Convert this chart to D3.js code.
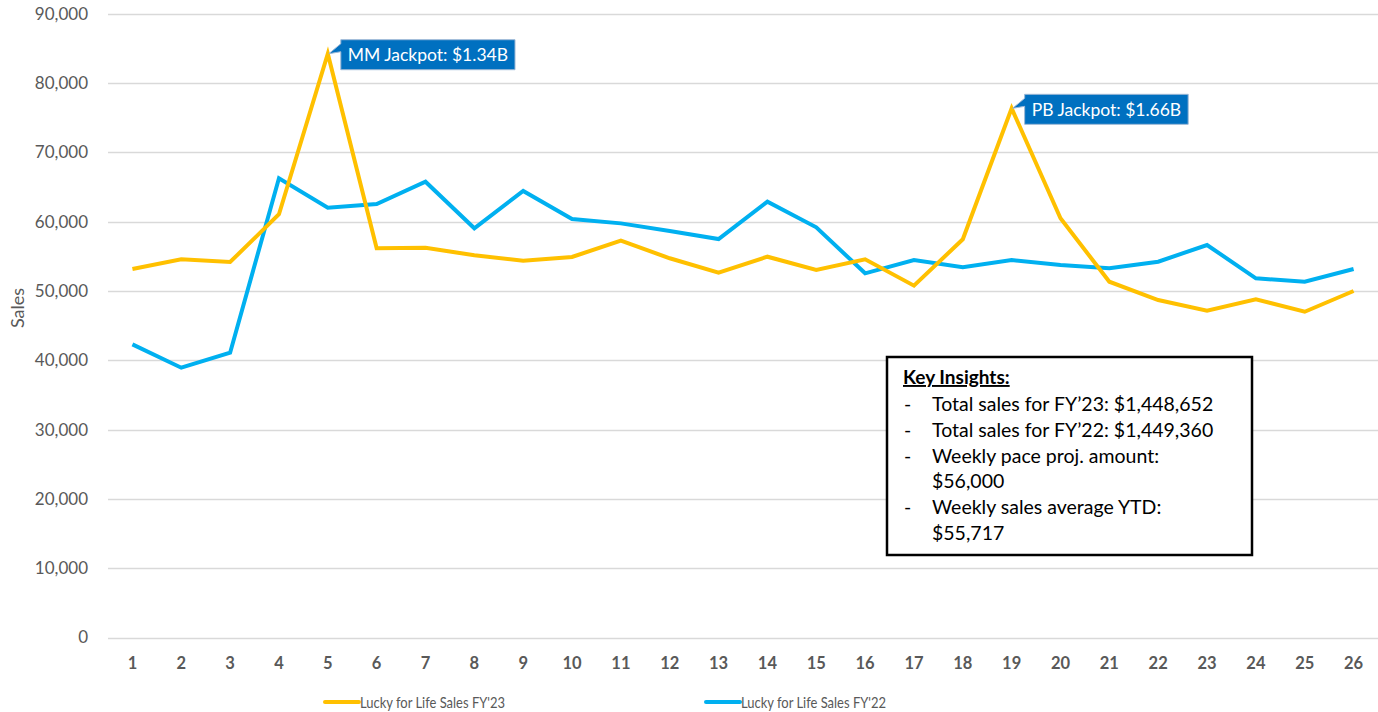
<!DOCTYPE html>
<html>
<head>
<meta charset="utf-8">
<script src="https://cdn.jsdelivr.net/npm/d3@7"></script>
<style>
  body { margin: 0; background: #fff; }
  svg { display: block; font-family: Lato, "Open Sans", sans-serif; }
</style>
</head>
<body>
<div id="chart"></div>
<script>
const weeks = d3.range(1, 27);
const salesFY23 = [53170, 54570, 54180, 61070, 84240, 56160, 56250, 55150, 54380, 54910,
  57260, 54720, 52650, 54950, 53030, 54570, 50770, 57460, 76360, 60490,
  51340, 48700, 47160, 48800, 47010, 50000];
const salesFY22 = [42300, 38930, 41100, 66260, 62020, 62550, 65770, 59050, 64430, 60390,
  59760, 58660, 57500, 62890, 59190, 52550, 54470, 53420, 54470, 53750,
  53280, 54230, 56640, 51830, 51340, 53170];
const yTicks = [0, 10000, 20000, 30000, 40000, 50000, 60000, 70000, 80000, 90000];
const seriesNames = ["Lucky for Life Sales FY'23", "Lucky for Life Sales FY'22"];
const callouts = [
  { week: 5, text: "MM Jackpot: $1.34B" },
  { week: 19, text: "PB Jackpot: $1.66B" }
];
const insightTitle = "Key Insights:";
const insightLines = [
  ["-", "Total sales for FY\u201923: $1,448,652"],
  ["-", "Total sales for FY\u201922: $1,449,360"],
  ["-", "Weekly pace proj. amount:"],
  ["", "$56,000"],
  ["-", "Weekly sales average YTD:"],
  ["", "$55,717"]
];

function drawChart() {
  const width = 1378;
  const height = 712;
  const colors = ["#FFC000", "#00B0F0"];
  const svg = d3.select("#chart").append("svg")
    .attr("width", width)
    .attr("height", height);

  const x = d3.scalePoint().domain(weeks).range([108, 1378]).padding(0.5);
  const y = d3.scaleLinear().domain([0, 90000]).range([637.5, 13.8]);

  // gridlines
  svg.append("g")
    .selectAll("line")
    .data(yTicks)
    .join("line")
    .attr("x1", 108)
    .attr("x2", 1378)
    .attr("y1", (d) => Math.round(y(d)) + 0.5)
    .attr("y2", (d) => Math.round(y(d)) + 0.5)
    .attr("stroke", "#d9d9d9")
    .attr("stroke-width", 1.3);

  // y axis labels
  svg.append("g")
    .selectAll("text")
    .data(yTicks)
    .join("text")
    .attr("x", 88)
    .attr("y", (d) => y(d))
    .attr("dy", "0.35em")
    .attr("text-anchor", "end")
    .attr("fill", "#595959")
    .style("font-size", "17px")
    .text((d) => d3.format(",")(d));

  svg.append("text")
    .attr("transform", "translate(24,308) rotate(-90)")
    .attr("text-anchor", "middle")
    .attr("fill", "#595959")
    .style("font-size", "18px")
    .text("Sales");

  // x axis labels
  svg.append("g")
    .selectAll("text")
    .data(weeks)
    .join("text")
    .attr("x", (d) => x(d))
    .attr("y", 669)
    .attr("text-anchor", "middle")
    .attr("fill", "#595959")
    .style("font-size", "16.5px")
    .style("font-weight", "bold")
    .text((d) => d);

  // lines
  const line = d3.line()
    .x((d, i) => x(weeks[i]))
    .y((d) => y(d));

  [salesFY22, salesFY23].forEach((s) => {
    svg.append("path")
      .datum(s)
      .attr("fill", "none")
      .attr("stroke", s === salesFY23 ? colors[0] : colors[1])
      .attr("stroke-width", 4)
      .attr("stroke-linejoin", "miter")
      .attr("d", line);
  });

  // callouts
  callouts.forEach((c) => {
    const px = x(c.week);
    const py = y(salesFY23[c.week - 1]);
    const g = svg.append("g");
    const bx = px + 13;
    const by = py - 14;
    const t = g.append("text")
      .attr("x", bx + 7)
      .attr("y", by + 21.5)
      .attr("fill", "#fff")
      .style("font-size", "17.5px")
      .text(c.text);
    const w = t.node().getComputedTextLength() + 14;
    g.insert("path", "text")
      .attr("d", `M${bx},${by} H${bx + w} V${by + 30} H${bx} V${by + 12} L${px + 1},${py} L${bx},${by + 4} Z`)
      .attr("fill", "#0070C0")
      .attr("stroke", "#9db8d6")
      .attr("stroke-width", 1);
  });

  // key insights box
  const box = svg.append("g");
  box.append("rect")
    .attr("x", 887)
    .attr("y", 357)
    .attr("width", 365)
    .attr("height", 198)
    .attr("fill", "#fff")
    .attr("stroke", "#000")
    .attr("stroke-width", 2.5);
  box.append("text")
    .attr("x", 903)
    .attr("y", 384)
    .attr("fill", "#000")
    .style("font-size", "19px")
    .style("font-weight", "bold")
    .style("text-decoration", "underline")
    .text(insightTitle);
  insightLines.forEach((l, i) => {
    const yy = 411 + i * 25.8;
    box.append("text")
      .attr("x", 904)
      .attr("y", yy)
      .attr("fill", "#000")
      .style("font-size", "19.5px")
      .text(l[0]);
    box.append("text")
      .attr("x", 932)
      .attr("y", yy)
      .attr("fill", "#000")
      .style("font-size", "19.5px")
      .text(l[1]);
  });

  // legend
  const legendX = [325, 706];
  seriesNames.forEach((name, i) => {
    const g = svg.append("g");
    g.append("line")
      .attr("x1", legendX[i])
      .attr("x2", legendX[i] + 34)
      .attr("y1", 702)
      .attr("y2", 702)
      .attr("stroke", colors[i])
      .attr("stroke-width", 4)
      .attr("stroke-linecap", "round");
    g.append("text")
      .attr("x", legendX[i] + 35)
      .attr("y", 708)
      .attr("fill", "#595959")
      .style("font-size", "16px")
      .attr("textLength", 145)
      .attr("lengthAdjust", "spacingAndGlyphs")
      .text(name);
  });
}

drawChart();
</script>
</body>
</html>
